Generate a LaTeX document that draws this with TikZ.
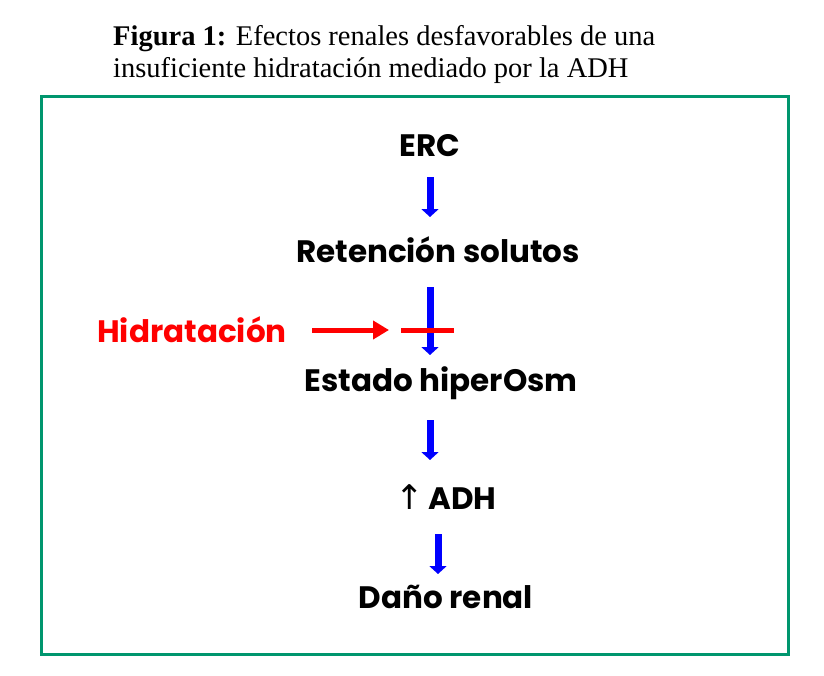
\documentclass[tikz,border=0pt]{standalone}
\usepackage{fontspec}
\setmainfont{Liberation Serif}
\newfontfamily\boxfont{Poppins}
\newfontfamily\symfont{DejaVu Sans}
\usetikzlibrary{arrows.meta}
\definecolor{framegreen}{RGB}{0,150,110}
\begin{document}
\begin{tikzpicture}[x=1pt,y=-1pt,
  lbl/.style={font=\boxfont\bfseries\fontsize{31}{35}\selectfont, inner sep=0pt, anchor=center},
  bluearr/.style={draw=blue, line width=7pt, -{Triangle[width=17pt,length=8pt]}, blue},
  redarr/.style={draw=red, line width=5pt, -{Triangle[width=18pt,length=16pt]}, red},
  redbar/.style={draw=red, line width=5pt}]
\useasboundingbox (0,0) rectangle (824,675);
\draw[framegreen, line width=3pt] (41,96) rectangle (788,654);
\node[anchor=base west, inner sep=0pt, align=left, font=\fontsize{28.5}{32}\selectfont] (title) at (113,77)
  {\textbf{Figura 1:} Efectos renales desfavorables de una\\insuficiente hidratación mediado por la ADH};
\node[lbl] (erc) at (430,146) {ERC};
\node[lbl] (ret) at (438,250) {Retención solutos};
\node[lbl] (est) at (441,383) {Estado hiperOsm};
\node[lbl] (adh) at (446,497) {{\symfont\mdseries\fontsize{34}{35}\selectfont ↑}\hspace{4pt}ADH};
\node[lbl] (dano) at (446,597) {Daño renal};
\node[lbl, red] (hid) at (192,330) {Hidratación};
\coordinate (a1s) at (430,177); \coordinate (a1e) at (430,217);
\coordinate (a2s) at (430,287); \coordinate (a2e) at (430,355);
\coordinate (a3s) at (430,420); \coordinate (a3e) at (430,460);
\coordinate (a4s) at (438,534); \coordinate (a4e) at (438,574);
\coordinate (rs) at (312,330); \coordinate (re) at (389,330);
\coordinate (bs) at (401,330); \coordinate (be) at (454,330);
\draw[bluearr] (a1s) -- (a1e);
\draw[bluearr] (a2s) -- (a2e);
\draw[bluearr] (a3s) -- (a3e);
\draw[bluearr] (a4s) -- (a4e);
\draw[redarr] (rs) -- (re);
\draw[redbar] (bs) -- (be);
\end{tikzpicture}
\end{document}
